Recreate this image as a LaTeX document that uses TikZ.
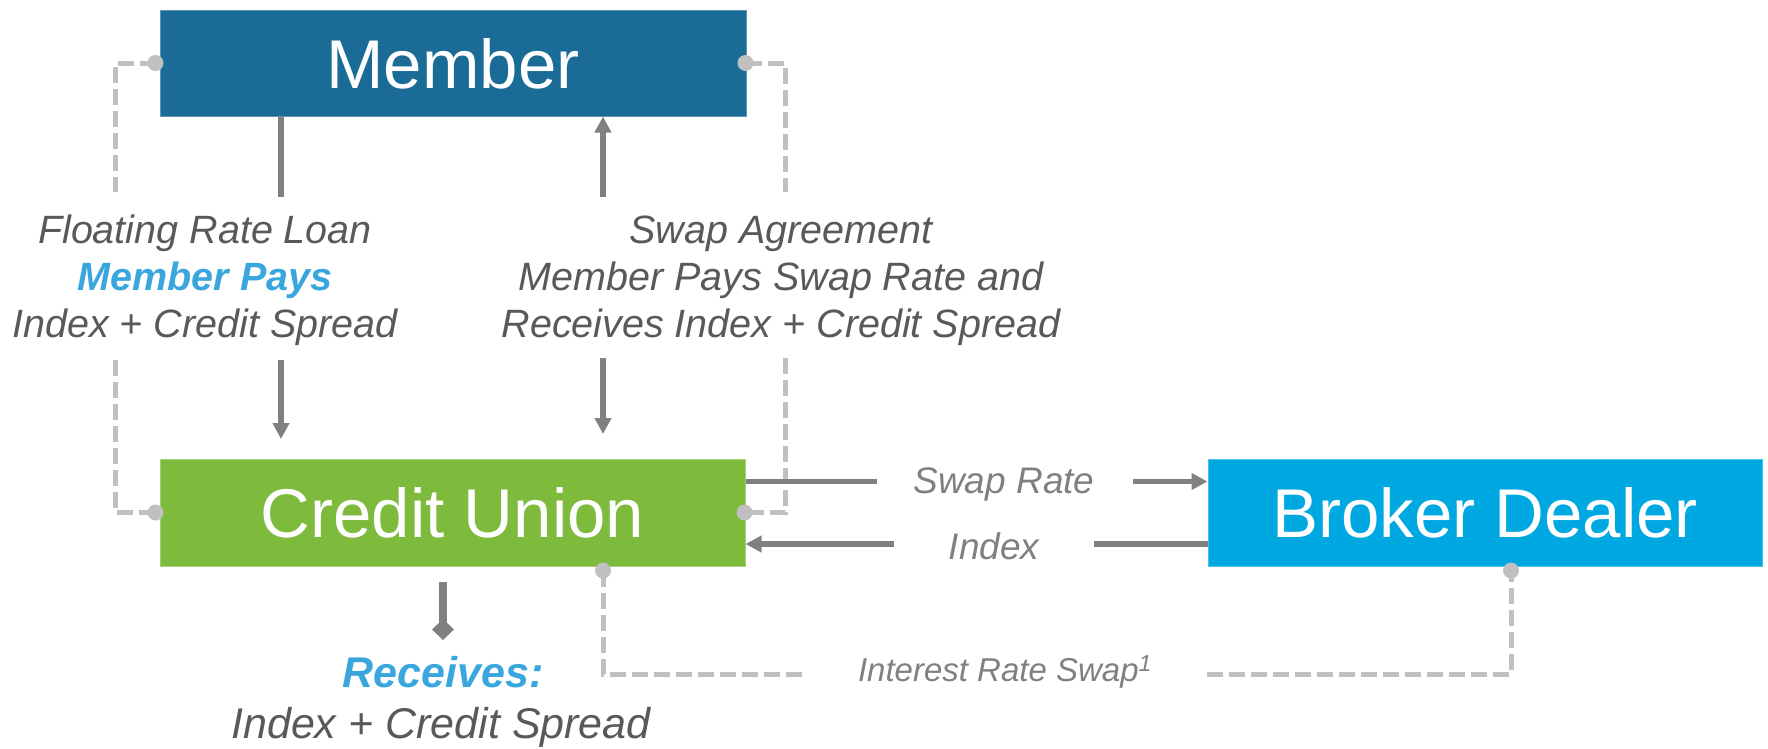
\documentclass[tikz,border=0pt]{standalone}
\usepackage{fontspec}
\setmainfont{Liberation Sans}
\usetikzlibrary{arrows.meta}

\definecolor{memberblue}{RGB}{26,107,150}
\definecolor{cugreen}{RGB}{126,186,60}
\definecolor{bdblue}{RGB}{0,168,226}
\definecolor{accent}{RGB}{58,166,222}
\definecolor{textgray}{RGB}{89,89,89}
\definecolor{labelgray}{RGB}{128,128,128}
\definecolor{linegray}{RGB}{128,128,128}
\definecolor{dashgray}{RGB}{192,192,192}

\begin{document}
\begin{tikzpicture}[x=1pt,y=-1pt,
  box/.style={draw=#1!70!white, fill=#1, line width=1pt, inner sep=0pt,
    text=white, font={\fontsize{69}{80}\selectfont},
    text height=50pt, text depth=0pt},
  lbl/.style={anchor=base, inner sep=0pt, text=textgray,
    font={\fontsize{39.5}{47}\selectfont\itshape}},
  hilite/.style={anchor=base, inner sep=0pt, text=accent,
    font={\fontsize{39.5}{47}\selectfont\bfseries\itshape}},
  flowlbl/.style={anchor=base, inner sep=0pt, text=labelgray,
    font={\fontsize{37}{44}\selectfont\itshape}},
  solidln/.style={draw=linegray, line width=5.5pt},
  arrowln/.style={solidln, -{Triangle[length=16pt,width=16pt]}},
  diamondln/.style={draw=linegray, line width=8pt, -{Diamond[length=21pt,width=22pt]}},
  dashln/.style={draw=dashgray, line width=5pt, dash pattern=on 16pt off 6pt},
  dot/.style={fill=dashgray}
]
\useasboundingbox (0,0) rectangle (1768,748);

% parties
\node[box=memberblue, minimum width=586pt, minimum height=106pt] (member) at (453,63) {Member};
\node[box=cugreen, minimum width=585pt, minimum height=107pt] (cu) at (452.5,512.5) {Credit Union};
\node[box=bdblue, minimum width=554pt, minimum height=107pt] (bd) at (1485,512.5) {Broker Dealer};

% loan terms (left) and swap agreement (right)
\node[lbl] (loan1) at (205,243) {Floating Rate Loan};
\node[hilite] (loan2) at (205,290) {Member Pays};
\node[lbl] (loan3) at (205,337) {Index + Credit Spread};
\node[lbl] (swap1) at (781,243) {Swap Agreement};
\node[lbl] (swap2) at (781,290) {Member Pays Swap Rate and};
\node[lbl] (swap3) at (781,337) {Receives Index + Credit Spread};

% flows between credit union and broker dealer
\node[flowlbl] (srate) at (1004,493) {Swap Rate};
\node[flowlbl] (idx) at (994,559) {Index};
\node[anchor=base, inner sep=0pt, text=labelgray,
  font={\fontsize{33}{40}\selectfont\itshape}] (irs) at (1005,681) {Interest Rate Swap\textsuperscript{1}};

% credit union result
\node[hilite, font={\fontsize{43}{50}\selectfont\bfseries\itshape}] (recv1) at (443,687) {Receives:};
\node[lbl, font={\fontsize{43}{50}\selectfont\itshape}] (recv2) at (441,738) {Index + Credit Spread};

% dot centres on the box edges
\coordinate (mW) at ([xshift=-4pt]member.west);
\coordinate (mE) at ([xshift=-1pt]member.east);
\coordinate (cW) at ([xshift=-4pt]cu.west);
\coordinate (cE) at ([xshift=-1pt]cu.east);
\coordinate (cuB) at ([xshift=150.5pt,yshift=-4pt]cu.south);
\coordinate (bdB) at ([xshift=26pt,yshift=-4pt]bd.south);

% free ends of the connectors
\coordinate (dL1) at (115,192);
\coordinate (dL2) at (115,360);
\coordinate (dR1) at (785,192);
\coordinate (dR2) at (785,358);
\coordinate (dB1) at (803,674);
\coordinate (dB2) at (1207,674);
\coordinate (aL1) at (281,197);
\coordinate (aL2) at (281,360);
\coordinate (aL3) at (281,439);
\coordinate (aR1) at (603,197);
\coordinate (aR2) at (603,358);
\coordinate (aR3) at (603,434);
\coordinate (sr1) at (877,481.5);
\coordinate (sr2) at (1133,481.5);
\coordinate (ix1) at (1094,544);
\coordinate (ix2) at (894,544);
\coordinate (dm1) at (443,582);
\coordinate (dm2) at (443,640);

% dashed relationship lines
\draw[dashln] (mW) -| (dL1);
\draw[dashln] (dL2) |- (cW);
\draw[dashln] (mE) -| (dR1);
\draw[dashln] (dR2) |- (cE);
\draw[dashln] (cuB) |- (dB1);
\draw[dashln] (dB2) -| (bdB);

% payment flows
\draw[solidln] ([xshift=-172pt]member.south) -- (aL1);
\draw[arrowln] (aL2) -- (aL3);
\draw[arrowln] (aR1) -- ([xshift=150pt]member.south);
\draw[arrowln] (aR2) -- (aR3);
\draw[solidln] ([yshift=31pt]cu.east) -- (sr1);
\draw[arrowln] (sr2) -- ([yshift=31pt]bd.west);
\draw[solidln] ([yshift=-31.5pt]bd.west) -- (ix1);
\draw[arrowln] (ix2) -- ([yshift=-31.5pt]cu.east);
\draw[diamondln] (dm1) -- (dm2);

% connection dots
\foreach \p in {mW, mE, cW, cE, cuB, bdB}
  \fill[dot] (\p) circle (8pt);
\end{tikzpicture}
\end{document}
